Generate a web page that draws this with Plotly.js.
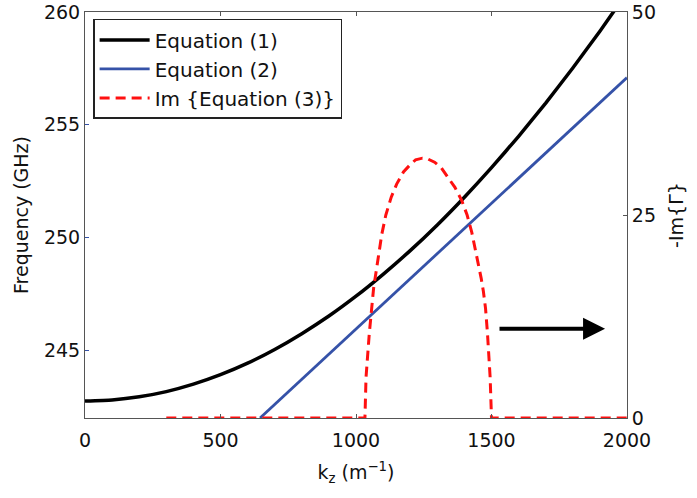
<!DOCTYPE html>
<html>
<head>
<meta charset="utf-8">
<script src="https://cdn.plot.ly/plotly-3.0.1.min.js"></script>
<style>html,body{margin:0;padding:0;background:#fff;}#chart{width:697px;height:498px;}</style>
</head>
<body>
<div id="chart"></div>
<script>
// Equation (1): frequency (GHz) vs kz (1/m)
const eq1K = [0, 100, 200, 300, 400, 500, 600, 700, 800, 900, 1000, 1100, 1200, 1300, 1400, 1500, 1600, 1700, 1800, 1900, 2000];
const eq1F = [242.75, 242.80, 242.94, 243.17, 243.50, 243.92, 244.43, 245.04, 245.74, 246.52, 247.40, 248.37, 249.42, 250.56, 251.79, 253.10, 254.49, 255.96, 257.52, 259.15, 260.86];

// Equation (2): straight line
const eq2K = [646, 1300, 2000];
const eq2F = [242.0, 249.29, 257.09];

// Im{Equation (3)} on the right axis (-Im{Gamma})
const eq3K = [300, 1000, 1033, 1037, 1049, 1065, 1085, 1095, 1110, 1130, 1150, 1175, 1200, 1220, 1245, 1265, 1290, 1315, 1340, 1365, 1390, 1410, 1427, 1440, 1455, 1462, 1470, 1478, 1485, 1490, 1495, 1500, 2000];
const eq3V = [0, 0, 0, 5, 10.4, 16, 20.8, 22.6, 25, 27.2, 28.8, 30.3, 31.2, 31.8, 32.0, 31.9, 31.5, 30.8, 29.6, 28.4, 26.8, 25.0, 22.9, 20.8, 18.5, 17.2, 15.6, 13.5, 10.5, 8, 5, 0, 0];

// arrow pointing to right axis
const arrowFrom = [1524, 11];
const arrowTo = [1919, 11];

const FONT = 'DejaVu Sans, Liberation Sans, Arial, sans-serif';

const traces = [
  {x: eq1K, y: eq1F, type: 'scatter', mode: 'lines', name: 'Equation (1)',
   line: {color: '#000000', width: 3.5, shape: 'spline', smoothing: 0.5}, yaxis: 'y'},
  {x: eq2K, y: eq2F, type: 'scatter', mode: 'lines', name: 'Equation (2)',
   line: {color: '#3552a8', width: 2.8}, yaxis: 'y'},
  {x: eq3K, y: eq3V, type: 'scatter', mode: 'lines', name: 'Im {Equation (3)}',
   line: {color: '#ff1010', width: 3, dash: '10px,6px'}, yaxis: 'y2'}
];

const layout = {
  width: 697, height: 498,
  margin: {l: 85, r: 70, t: 12, b: 80},
  paper_bgcolor: '#ffffff', plot_bgcolor: '#ffffff',
  font: {family: FONT, size: 19, color: '#111'},
  showlegend: true,
  legend: {x: 0.015, y: 0.983, xanchor: 'left', yanchor: 'top',
           bgcolor: '#ffffff', bordercolor: '#222', borderwidth: 1.5,
           font: {family: FONT, size: 20, color: '#111'}, itemwidth: 50,
           tracegroupgap: 0},
  xaxis: {range: [0, 2000], tickvals: [0, 500, 1000, 1500, 2000],
          showgrid: false, zeroline: false, showline: true, linecolor: '#555', linewidth: 1,
          mirror: 'ticks', ticks: 'inside', ticklen: 4, tickcolor: '#555',
          ticklabelstandoff: 5,
          tickfont: {family: FONT, size: 19},
          title: {text: 'k<sub>z</sub> (m<sup>−1</sup>)', font: {family: FONT, size: 19}, standoff: 15}},
  yaxis: {range: [242, 260], tickvals: [245, 250, 255, 260],
          showgrid: false, zeroline: false, showline: true, linecolor: '#555', linewidth: 1,
          ticks: 'inside', ticklen: 4, tickcolor: '#3552a8',
          tickfont: {family: FONT, size: 19},
          title: {text: 'Frequency (GHz)', font: {family: FONT, size: 19}, standoff: 10}},
  yaxis2: {range: [0, 50], tickvals: [0, 25, 50], overlaying: 'y', side: 'right',
           showgrid: false, zeroline: false, showline: true, linecolor: '#555', linewidth: 1,
           ticks: 'inside', ticklen: 4, tickcolor: '#555',
           tickfont: {family: FONT, size: 19},
           title: {text: '-Im{Γ}', font: {family: FONT, size: 19}, standoff: 14}},
  annotations: [
    {x: arrowTo[0], y: arrowTo[1], xref: 'x', yref: 'y2',
     ax: arrowFrom[0], ay: arrowFrom[1], axref: 'x', ayref: 'y2',
     text: '', showarrow: true, arrowhead: 2, arrowsize: 1.1, arrowwidth: 4,
     arrowcolor: '#000000'}
  ]
};

Plotly.newPlot('chart', traces, layout, {displayModeBar: false, staticPlot: true});
</script>
</body>
</html>
